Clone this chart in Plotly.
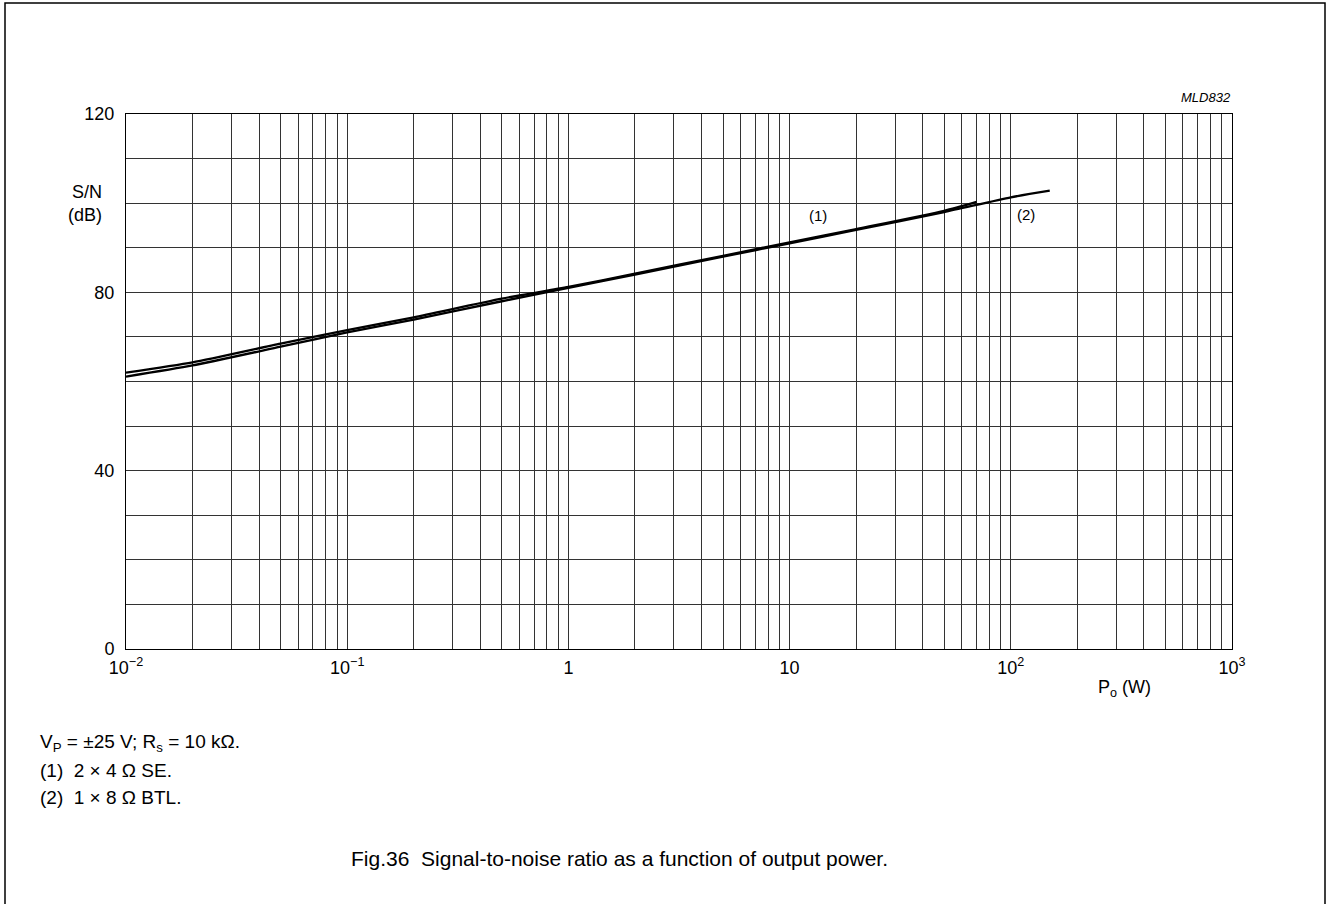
import numpy as np
import plotly.graph_objects as go

# Data
p_se = [0.01, 0.02, 0.05, 0.1, 0.2, 0.5, 1, 2, 5, 10, 20, 50, 70]
sn_se = [62.0, 64.3, 68.5, 71.5, 74.4, 78.6, 81.2, 84.2, 88.2, 91.2, 94.2, 98.3, 100.3]
p_btl = [0.01, 0.02, 0.05, 0.1, 0.2, 0.5, 1, 2, 5, 10, 20, 50, 100, 150]
sn_btl = [61.1, 63.6, 67.8, 71.0, 73.9, 78.0, 81.0, 84.0, 88.0, 91.0, 94.0, 98.0, 101.3, 102.8]

x_decades = [-2, -1, 0, 1, 2, 3]
x_decade_labels = ["10<sup>\u22122</sup>", "10<sup>\u22121</sup>", "1", "10", "10<sup>2</sup>", "10<sup>3</sup>"]
y_major = [0, 40, 80, 120]
y_major_labels = ["0", "40", "80", "120"]
y_minor = list(range(0, 121, 10))

FONT = "Liberation Sans, Arial, sans-serif"

x_major = [10.0 ** d for d in x_decades]
x_minor = [m * 10.0 ** d for d in x_decades[:-1] for m in range(2, 10)]

fig = go.Figure()
fig.add_trace(go.Scatter(x=p_se, y=sn_se, mode="lines",
                         line=dict(color="black", width=2.3, shape="spline", smoothing=0.6),
                         showlegend=False))
fig.add_trace(go.Scatter(x=p_btl, y=sn_btl, mode="lines",
                         line=dict(color="black", width=2.3, shape="spline", smoothing=0.6),
                         showlegend=False))

W, H = 1327, 904
L, R, T, B = 126, 1232, 114, 649

def px(x):
    return (x - L) / (R - L)

def py(y):
    return (B - y) / (B - T)

GRID = "#333"
fig.update_layout(
    width=W, height=H,
    margin=dict(l=L, r=W - R, t=T, b=H - B, pad=0),
    plot_bgcolor="white", paper_bgcolor="white",
    font=dict(family=FONT, size=18, color="black"),
    xaxis=dict(type="log", range=[-2, 3], tickmode="array", tickvals=x_major,
               ticktext=x_decade_labels,
               showgrid=True, gridcolor=GRID, gridwidth=1, showline=True, linecolor="black",
               linewidth=1, mirror=True, ticks="", zeroline=False, tickfont=dict(size=18),
               ticklabelstandoff=2,
               minor=dict(tickmode="array", tickvals=x_minor, showgrid=True,
                          gridcolor=GRID, gridwidth=1, ticks="")),
    yaxis=dict(range=[0, 120], tickmode="array", tickvals=y_major, ticktext=y_major_labels,
               showgrid=True, gridcolor=GRID, gridwidth=1, showline=True, linecolor="black",
               linewidth=1, mirror=True, ticks="", zeroline=False, tickfont=dict(size=18),
               ticklabelstandoff=7,
               minor=dict(tickmode="array", tickvals=y_minor, showgrid=True,
                          gridcolor=GRID, gridwidth=1, ticks="")),
)

ann = []
def add(text, x, y, size=18, xanchor="center", yanchor="middle", italic=False):
    ann.append(dict(text=("<i>%s</i>" % text) if italic else text, x=px(x), y=py(y),
                    xref="paper", yref="paper", showarrow=False, xanchor=xanchor,
                    yanchor=yanchor, font=dict(size=size, family=FONT, color="black")))

add("S/N", 104, 192, xanchor="right")
add("(dB)", 104, 215, xanchor="right")
add("MLD832", 1233, 97, size=13, xanchor="right", italic=True)
add("P<sub>o</sub> (W)", 1124, 688)
add("(1)", 818, 215, size=15)
add("(2)", 1026, 214, size=15)
add("V<sub>P</sub> = \u00b125 V; R<sub>s</sub> = 10 k\u03a9.", 38, 743, size=19, xanchor="left")
add("(1)&nbsp;&nbsp;2 \u00d7 4 \u03a9 SE.", 38, 770, size=19, xanchor="left")
add("(2)&nbsp;&nbsp;1 \u00d7 8 \u03a9 BTL.", 38, 797, size=19, xanchor="left")
add("Fig.36&nbsp;&nbsp;Signal-to-noise ratio as a function of output power.", 619, 858, size=21)
fig.update_layout(annotations=ann)

fig.add_shape(type="rect", xref="paper", yref="paper",
              x0=px(5), x1=px(1325), y0=py(915), y1=py(3),
              line=dict(color="black", width=1.5), fillcolor="rgba(0,0,0,0)", layer="above")

fig.write_html("out.html", config={"displayModeBar": False},
               post_script="document.body.style.margin='0';document.body.style.overflow='hidden';")
